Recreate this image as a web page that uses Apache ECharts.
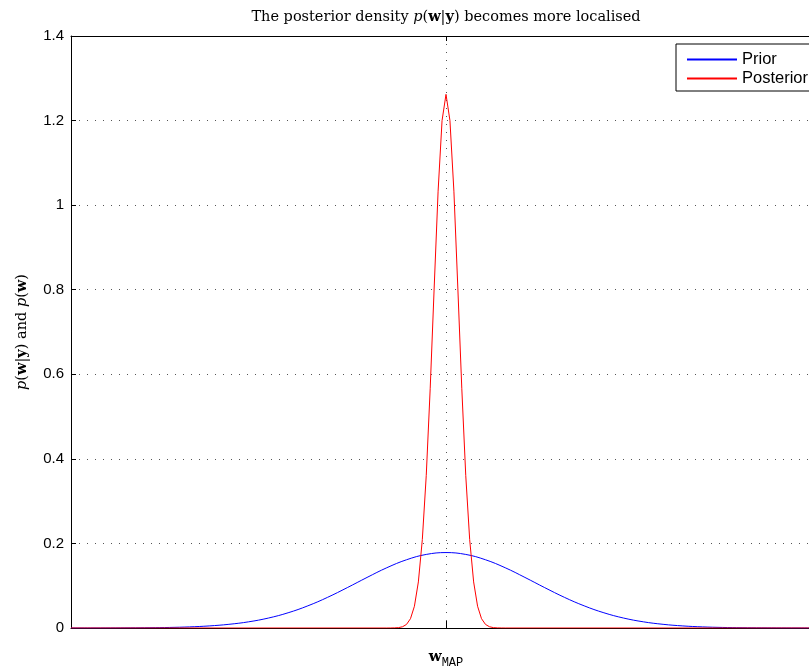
<!DOCTYPE html>
<html>
<head>
<meta charset="utf-8">
<script src="https://cdn.jsdelivr.net/npm/echarts@6/dist/echarts.min.js"></script>
<style>
html,body{margin:0;padding:0;background:#fff;overflow:hidden;width:809px;height:669px;}
#chart{width:840px;height:669px;}
</style>
</head>
<body>
<div id="chart"></div>
<script>
// ---- data ----
const seriesNames = ['Prior', 'Posterior'];
const xTickValues = [0];
const yTicks = [0, 0.2, 0.4, 0.6, 0.8, 1, 1.2, 1.4];

const priorX = [-9.5,-9,-8.5,-8,-7.5,-7,-6.5,-6,-5.5,-5,-4.5,-4,-3.5,-3,-2.5,-2,-1.5,-1,-0.5,0,
                0.5,1,1.5,2,2.5,3,3.5,4,4.5,5,5.5,6,6.5,7,7.5,8,8.5,9,9.5];
const priorY = [0,0,0.0001,0.0003,0.0006,0.0013,0.0026,0.0049,0.0087,0.0146,0.0235,0.036,0.0524,0.0725,0.0955,0.1196,0.1425,0.1614,0.174,0.1784,
                0.174,0.1614,0.1425,0.1196,0.0955,0.0725,0.0524,0.036,0.0235,0.0146,0.0087,0.0049,0.0026,0.0013,0.0006,0.0003,0.0001,0,0];

const postX = [-9.5,-1.5,-1.4,-1.3,-1.2,-1.1,-1,-0.9,-0.8,-0.7,-0.6,-0.5,-0.4,-0.3,-0.2,-0.1,0,
               0.1,0.2,0.3,0.4,0.5,0.6,0.7,0.8,0.9,1,1.1,1.2,1.3,1.4,1.5,9.5];
const postY = [0,0,0.0001,0.0003,0.0009,0.003,0.0085,0.022,0.0514,0.109,0.209,0.361,0.567,0.804,1.033,1.2,1.262,
               1.2,1.033,0.804,0.567,0.361,0.209,0.109,0.0514,0.022,0.0085,0.003,0.0009,0.0003,0.0001,0,0];

const xMin = -9.5, xMax = 9.5;

const priorData = priorX.map((x, i) => [x, priorY[i]]);
const postData = postX.map((x, i) => [x, postY[i]]);

const chart = echarts.init(document.getElementById('chart'), null, {renderer: 'canvas'});
const serif = '"DejaVu Serif", "Liberation Serif", serif';
const sans = '"Liberation Sans", Arial, sans-serif';
const mono = '"Liberation Mono", "DejaVu Sans Mono", monospace';
const gridDot = {color: '#555', width: 1, type: [1, 7]};

const option = {
  animation: false,
  backgroundColor: '#fff',
  grid: {left: 71, top: 36, bottom: 40, right: 19, containLabel: false},
  graphic: [{
    type: 'text',
    x: 446, y: 17,
    style: {
      text: '{n|The posterior density }{i|p}{n|(}{b|w}{n||}{b|y}{n|) becomes more localised}',
      align: 'center', verticalAlign: 'middle',
      rich: {
        n: {fontFamily: serif, fontSize: 14.5, color: '#000'},
        i: {fontFamily: serif, fontSize: 14.5, fontStyle: 'italic', color: '#000'},
        b: {fontFamily: serif, fontSize: 14.5, fontWeight: 'bold', color: '#000'}
      }
    }
  }],
  legend: {
    left: 676, top: 44, orient: 'vertical',
    data: seriesNames,
    backgroundColor: '#fff', borderColor: '#000', borderWidth: 1,
    padding: [7, 10, 4, 10], itemGap: 2, itemWidth: 50, itemHeight: 14,
    itemStyle: {opacity: 0},
    textStyle: {fontFamily: sans, fontSize: 16.5, color: '#000'}
  },
  xAxis: [{
    type: 'value', min: xMin, max: xMax, interval: 9.5, position: 'bottom',
    axisLine: {show: true, onZero: false, lineStyle: {color: '#000', width: 1}},
    axisTick: {show: true, inside: true, length: 7, lineStyle: {color: '#000'}},
    axisLabel: {
      show: true, margin: 22,
      formatter: function (v) { return xTickValues.indexOf(v) >= 0 ? '{w|w}{s|MAP}' : ''; },
      rich: {
        w: {fontFamily: serif, fontSize: 15, fontWeight: 'bold', color: '#000', verticalAlign: 'bottom'},
        s: {fontFamily: mono, fontSize: 12, color: '#000', verticalAlign: 'bottom', padding: [0, 0, -4, 0]}
      }
    },
    splitLine: {show: true, lineStyle: gridDot}
  }, {
    type: 'value', min: xMin, max: xMax, interval: 9.5, position: 'top',
    axisLine: {show: true, onZero: false, lineStyle: {color: '#000', width: 1}},
    axisTick: {show: true, inside: true, length: 5, lineStyle: {color: '#000'}},
    axisLabel: {show: false},
    splitLine: {show: false}
  }],
  yAxis: [{
    type: 'value', min: yTicks[0], max: yTicks[yTicks.length - 1], interval: 0.2, position: 'left',
    name: '{i|p}{n|(}{b|w}{n||}{b|y}{n|) and }{i|p}{n|(}{b|w}{n|)}',
    nameLocation: 'middle', nameGap: 41, nameRotate: 90,
    nameTextStyle: {
      rich: {
        n: {fontFamily: serif, fontSize: 14.5, color: '#000'},
        i: {fontFamily: serif, fontSize: 14.5, fontStyle: 'italic', color: '#000'},
        b: {fontFamily: serif, fontSize: 14.5, fontWeight: 'bold', color: '#000'}
      }
    },
    axisLine: {show: true, onZero: false, lineStyle: {color: '#000', width: 1}},
    axisTick: {show: true, inside: true, length: 5, lineStyle: {color: '#000'}},
    axisLabel: {fontFamily: sans, fontSize: 15, color: '#000', margin: 7},
    splitLine: {show: true, lineStyle: gridDot}
  }, {
    type: 'value', min: yTicks[0], max: yTicks[yTicks.length - 1], interval: 0.2, position: 'right',
    axisLine: {show: true, onZero: false, lineStyle: {color: '#000', width: 1}},
    axisTick: {show: true, inside: true, length: 5, lineStyle: {color: '#000'}},
    axisLabel: {show: false},
    splitLine: {show: false}
  }],
  series: [{
    name: seriesNames[0], type: 'line', data: priorData, xAxisIndex: 0, yAxisIndex: 0,
    symbol: 'none', smooth: 0.4, lineStyle: {color: '#0000ff', width: 1}, itemStyle: {color: '#0000ff'}
  }, {
    name: seriesNames[1], type: 'line', data: postData, xAxisIndex: 0, yAxisIndex: 0,
    symbol: 'none', smooth: false, lineStyle: {color: '#ff0000', width: 1}, itemStyle: {color: '#ff0000'}
  }]
};
chart.setOption(option);
</script>
</body>
</html>
